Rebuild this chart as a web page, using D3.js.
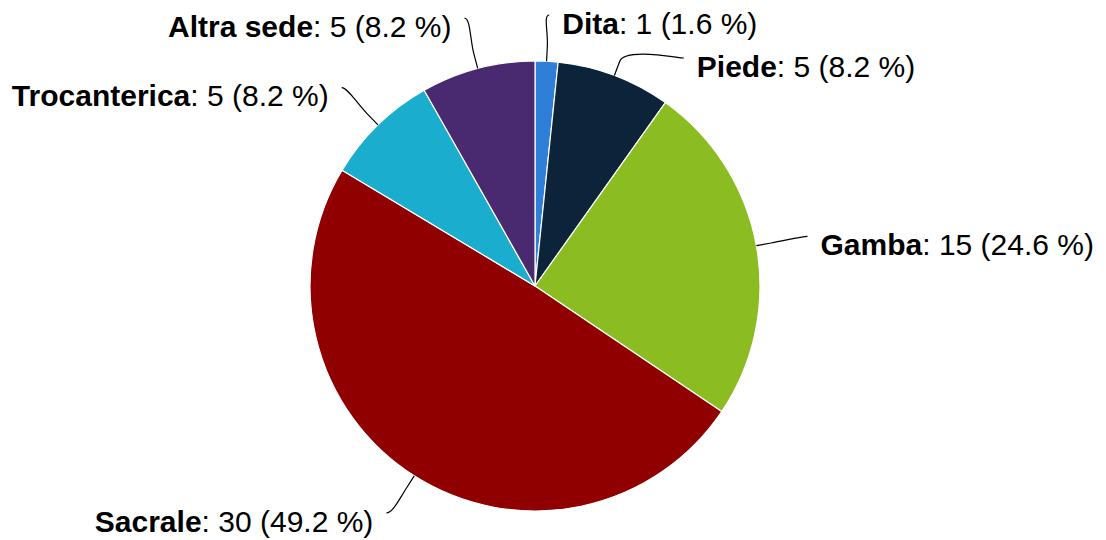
<!DOCTYPE html>
<html>
<head>
<meta charset="utf-8">
<script src="https://cdnjs.cloudflare.com/ajax/libs/d3/7.8.5/d3.min.js"></script>
<style>
  body { margin: 0; background: #fff; }
  text { font-family: "Liberation Sans", Arial, sans-serif; }
</style>
</head>
<body>
<div class="chart"></div>
<script>
// data
var categories = ["Dita", "Piede", "Gamba", "Sacrale", "Trocanterica", "Altra sede"];
var values = [1, 5, 15, 30, 5, 5];
var colors = ["#2f7ed8", "#0d233a", "#8bbc21", "#910000", "#1aadce", "#492970"];

var svgWidth = 1106;
var svgHeight = 540;
var cx = 535, cy = 286;
var radius = 225;
var labelRadius = radius + 52;
var breakRadius = radius + 15;
var lineGap = 43;
var topBound = 15 - cy, bottomBound = 513 - cy;

var total = d3.sum(values);
var data = categories.map(function(c, i) {
  return { name: c, value: values[i], color: colors[i] };
});

var svg = d3.select(".chart")
            .append("svg")
            .attr("width", svgWidth)
            .attr("height", svgHeight);

var chart = svg.append("g")
               .attr("transform", "translate(" + cx + "," + cy + ")");

var pie = d3.pie().sort(null).value(function(d) { return d.value; });
var arcs = pie(data);
var arc = d3.arc().innerRadius(0).outerRadius(radius);

chart.selectAll("path.slice")
     .data(arcs)
     .enter().append("path")
     .attr("class", "slice")
     .attr("d", arc)
     .attr("fill", function(d) { return d.data.color; })
     .attr("stroke", "#fff")
     .attr("stroke-width", 1.2)
     .attr("stroke-linejoin", "round");

// label layout: natural position, push apart per side, then keep inside the frame
arcs.forEach(function(a) {
  a.mid = (a.startAngle + a.endAngle) / 2;
  a.side = Math.sin(a.mid) >= 0 ? 1 : -1;
  a.ly = -Math.cos(a.mid) * labelRadius;
});

[1, -1].forEach(function(side) {
  var group = arcs.filter(function(a) { return a.side === side; })
                  .sort(function(a, b) { return a.ly - b.ly; });
  for (var i = 1; i < group.length; i++) {
    if (group[i].ly < group[i - 1].ly + lineGap) group[i].ly = group[i - 1].ly + lineGap;
  }
  group.forEach(function(a) {
    a.lx = side * Math.sqrt(Math.max(0, labelRadius * labelRadius - a.ly * a.ly));
  });
  for (var j = 0; j < group.length; j++) {
    group[j].ly = Math.max(group[j].ly, topBound);
    if (j > 0) group[j].ly = Math.max(group[j].ly, group[j - 1].ly + lineGap);
  }
  for (var k = group.length - 1; k >= 0; k--) {
    group[k].ly = Math.min(group[k].ly, bottomBound);
    if (k < group.length - 1) group[k].ly = Math.min(group[k].ly, group[k + 1].ly - lineGap);
  }
});

chart.selectAll("path.connector")
     .data(arcs)
     .enter().append("path")
     .attr("class", "connector")
     .attr("fill", "none")
     .attr("stroke", "#000")
     .attr("stroke-width", 1.2)
     .attr("d", function(a) {
       var ex = Math.sin(a.mid) * radius, ey = -Math.cos(a.mid) * radius;
       var bx = Math.sin(a.mid) * breakRadius, by = -Math.cos(a.mid) * breakRadius;
       return "M" + a.lx + "," + a.ly +
              "C" + (a.lx - a.side * 6) + "," + a.ly + " " +
              (2 * bx - ex) + "," + (2 * by - ey) + " " + bx + "," + by +
              "L" + ex + "," + ey;
     });

var labels = chart.selectAll("text.label")
                  .data(arcs)
                  .enter().append("text")
                  .attr("class", "label")
                  .attr("x", function(a) { return a.lx + a.side * 13; })
                  .attr("y", function(a) { return a.ly + 18.5; })
                  .attr("text-anchor", function(a) { return a.side > 0 ? "start" : "end"; })
                  .attr("font-size", 30)
                  .attr("fill", "#000");

labels.append("tspan")
      .attr("font-weight", "bold")
      .text(function(a) { return a.data.name; });

labels.append("tspan")
      .text(function(a) {
        return ": " + a.data.value + " (" + d3.format(".1f")(a.data.value / total * 100) + " %)";
      });
</script>
</body>
</html>
